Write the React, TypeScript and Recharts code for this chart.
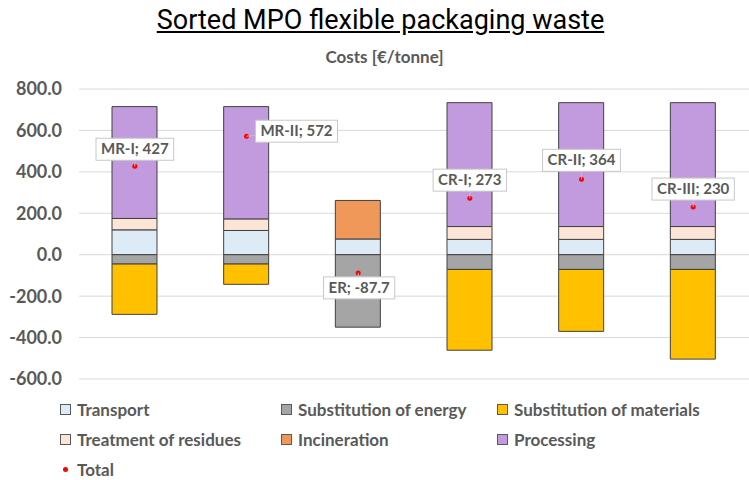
import React from 'react';
import { ComposedChart, Bar, Line, XAxis, YAxis, CartesianGrid, LabelList } from 'recharts';

// --- Data ---
const categories = ['MR-I', 'MR-II', 'ER', 'CR-I', 'CR-II', 'CR-III'];
const transport = [120, 117, 76, 74, 74, 74];
const treatment = [55, 56, 0, 62, 62, 62];
const incineration = [0, 0, 186, 0, 0, 0];
const processing = [540, 542, 0, 598, 598, 598];
const energy = [-45, -45, -349.7, -71, -71, -71];
const materials = [-243, -98, 0, -390, -299, -433];
const total = [427, 572, -87.7, 273, 364, 230];
const yTicks = [-600, -400, -200, 0, 200, 400, 600, 800];

const chartData = categories.map((name, i) => ({
  name,
  transport: transport[i],
  treatment: treatment[i],
  incineration: incineration[i],
  processing: processing[i],
  energy: energy[i],
  materials: materials[i],
  total: total[i],
}));

const COLORS = {
  transport: '#DDEBF7',
  treatment: '#FCE4D6',
  incineration: '#F0975A',
  processing: '#C29BDE',
  energy: '#A5A5A5',
  materials: '#FFC000',
};

const TEXT = '#595959';
const FONT = 'Lato, "Open Sans", sans-serif';

// where each total label box sits relative to its point (box centre)
const labelOffsets = [
  { dx: 0, dy: -17 },
  { dx: 50, dy: -5 },
  { dx: 1, dy: 15 },
  { dx: 0, dy: -18 },
  { dx: 0, dy: -19 },
  { dx: 0, dy: -18 },
];

let ctx: CanvasRenderingContext2D | null = null;
const measure = (text: string) => {
  if (!ctx) ctx = document.createElement('canvas').getContext('2d');
  if (!ctx) return text.length * 7.5;
  ctx.font = `bold 15px ${FONT}`;
  return ctx.measureText(text).width;
};

const TotalLabel = (props: any) => {
  const { x, y, value, index } = props;
  const off = labelOffsets[index] || { dx: 0, dy: -18 };
  const text = `${categories[index]}; ${value}`;
  const w = measure(text) + 10;
  const h = 22;
  const cx = x + off.dx;
  const cy = y + off.dy;
  return (
    <g>
      <line x1={x} y1={y} x2={cx} y2={cy} stroke="#bfbfbf" strokeWidth={1} />
      <rect x={cx - w / 2} y={cy - h / 2} width={w} height={h} fill="#fff" stroke="#c8c8c8" strokeWidth={1} />
      <text x={cx} y={cy + 5} textAnchor="middle" fill={TEXT} fontSize={15} fontWeight="bold" fontFamily={FONT}>
        {text}
      </text>
    </g>
  );
};

const legendRows = [
  [
    { name: 'Transport', color: COLORS.transport },
    { name: 'Substitution of energy', color: COLORS.energy },
    { name: 'Substitution of materials', color: COLORS.materials },
  ],
  [
    { name: 'Treatment of residues', color: COLORS.treatment },
    { name: 'Incineration', color: COLORS.incineration },
    { name: 'Processing', color: COLORS.processing },
  ],
];
const legendCols = [60, 281, 497];

const App: React.FC = () => {
  return (
    <div style={{ position: 'absolute', left: 0, top: 0, width: 749, height: 480, background: '#fff', fontFamily: FONT }}>
      <div style={{ position: 'absolute', top: 4, left: 6, width: 749, textAlign: 'center', fontFamily: 'Roboto, sans-serif', fontSize: 27, color: '#000', textDecoration: 'underline' }}>
        Sorted MPO flexible packaging waste
      </div>
      <div style={{ position: 'absolute', top: 46, left: 10, width: 749, textAlign: 'center', fontSize: 17, fontWeight: 'bold', color: TEXT }}>
        Costs [€/tonne]
      </div>

      <ComposedChart
        width={749}
        height={480}
        data={chartData}
        stackOffset="sign"
        barSize={45}
        margin={{ top: 89, right: 0, left: 0, bottom: 101 }}
      >
        <CartesianGrid vertical={false} stroke="#d9d9d9" />
        <XAxis dataKey="name" hide />
        <YAxis
          domain={[-600, 800]}
          ticks={yTicks}
          width={79}
          axisLine={false}
          tickLine={false}
          tickMargin={11}
          tickFormatter={(v: number) => v.toFixed(1)}
          tick={{ fill: TEXT, fontSize: 18, fontWeight: 'bold', fontFamily: FONT }}
        />
        <Bar dataKey="transport" stackId="a" fill={COLORS.transport} stroke="#404040" isAnimationActive={false} />
        <Bar dataKey="treatment" stackId="a" fill={COLORS.treatment} stroke="#404040" isAnimationActive={false} />
        <Bar dataKey="incineration" stackId="a" fill={COLORS.incineration} stroke="#404040" isAnimationActive={false} />
        <Bar dataKey="processing" stackId="a" fill={COLORS.processing} stroke="#404040" isAnimationActive={false} />
        <Bar dataKey="energy" stackId="a" fill={COLORS.energy} stroke="#404040" isAnimationActive={false} />
        <Bar dataKey="materials" stackId="a" fill={COLORS.materials} stroke="#404040" isAnimationActive={false} />
        <Line
          dataKey="total"
          stroke="none"
          dot={{ r: 2.5, fill: '#FF0000', stroke: 'none' }}
          activeDot={false}
          isAnimationActive={false}
        >
          <LabelList dataKey="total" content={TotalLabel} />
        </Line>
      </ComposedChart>

      {/* Legend */}
      {legendRows.map((row, r) =>
        row.map((item, c) => (
          <div key={item.name} style={{ position: 'absolute', left: legendCols[c], top: 399 + r * 30, display: 'flex', alignItems: 'center', fontSize: 17, fontWeight: 'bold', color: TEXT }}>
            <span style={{ display: 'inline-block', width: 9, height: 9, background: item.color, border: '1px solid #595959', marginRight: 6 }} />
            {item.name}
          </div>
        ))
      )}
      <div style={{ position: 'absolute', left: legendCols[0], top: 459, display: 'flex', alignItems: 'center', fontSize: 17, fontWeight: 'bold', color: TEXT }}>
        <span style={{ display: 'inline-block', width: 5, height: 5, borderRadius: 3, background: '#FF0000', margin: '0 9px 0 3px' }} />
        Total
      </div>
    </div>
  );
};

export default App;
